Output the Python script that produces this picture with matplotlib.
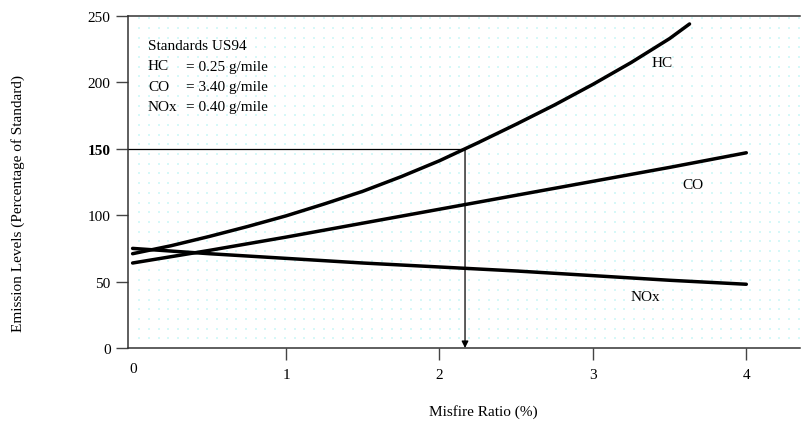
import numpy as np
import matplotlib.pyplot as plt

# emission levels as percentage of the US94 standard vs misfire ratio
misfire = [0.0, 0.25, 0.5, 0.75, 1.0, 1.25, 1.5, 1.75, 2.0, 2.25, 2.5, 2.75, 3.0, 3.25, 3.5, 3.63]
hc = [71, 77, 84, 91.5, 99.5, 108.5, 118, 129, 141, 154.5, 168.5, 183, 198.5, 215, 233, 244]

misfire_lin = [0.0, 0.5, 1.0, 1.5, 2.0, 2.5, 3.0, 3.5, 4.0]
co = [64, 73.5, 83.5, 94, 104.5, 115, 125.5, 136, 147]
nox = [75, 71, 67.5, 64, 61, 58, 54.5, 51, 48]

standard_level = 150
y_ticks = [0, 50, 100, 150, 200, 250]
x_ticks = [1, 2, 3, 4]
standards = [("HC", "= 0.25 g/mile"), ("CO", "= 3.40 g/mile"), ("NOx", "= 0.40 g/mile")]

plt.rcParams['font.family'] = ['Liberation Serif', 'DejaVu Serif']
W, H = 801, 427
fig = plt.figure(figsize=(W / 100, H / 100), dpi=100)
left, right, top, bottom = 128, 800, 17, 349
ax = fig.add_axes([left / W, 1 - bottom / H, (right - left) / W, (bottom - top) / H])

ax.set_xlim(-0.03, 4.35)
ax.set_ylim(0, 250)

# faint dotted background
xs = np.arange(11.3, right - left, 9.7) / (right - left)
ys = np.arange(9.7, bottom - top, 9.7) / (bottom - top)
gx, gy = np.meshgrid(xs, ys)
ax.scatter(gx.ravel(), gy.ravel(), s=0.8, marker='s', color='#d6f8f8',
           linewidths=0, transform=ax.transAxes, zorder=0)

line_style = dict(color='black', lw=2.5, solid_capstyle='round', solid_joinstyle='round')
ax.plot(misfire, hc, **line_style)
ax.plot(misfire_lin, co, **line_style)
ax.plot(misfire_lin, nox, **line_style)

# misfire ratio at which HC reaches 150 % of standard
x_cross = np.interp(standard_level, hc, misfire)
ax.plot([-0.03, x_cross], [standard_level, standard_level], color='black', lw=0.9)
ax.annotate('', xy=(x_cross, 0), xytext=(x_cross, standard_level),
            arrowprops=dict(arrowstyle='-|>', color='black', lw=0.9,
                            mutation_scale=10, shrinkA=0, shrinkB=0))

ax.text(3.45, 215, "HC", fontsize=11, ha='center', va='center')
ax.text(3.65, 123, "CO", fontsize=11, ha='center', va='center')
ax.text(3.34, 39, "NOx", fontsize=11, ha='center', va='center')

# standards box
ax.text(20 / 672, 1 - 29 / 332, "Standards US94", fontsize=11,
        transform=ax.transAxes, va='center')
for i, (gas, val) in enumerate(standards):
    yy = 1 - (50 + 20.3 * i) / 332
    ax.text(20 / 672, yy, gas, fontsize=11, transform=ax.transAxes, va='center')
    ax.text(58 / 672, yy, val, fontsize=11, transform=ax.transAxes, va='center')

ax.spines['right'].set_visible(False)
for s in ['left', 'top', 'bottom']:
    ax.spines[s].set_linewidth(1.1)
    ax.spines[s].set_color('#333333')

ax.set_yticks(y_ticks)
ax.set_yticklabels([str(v) for v in y_ticks])
ax.tick_params(axis='y', length=9, width=1, color='#444444', pad=3.5, labelsize=11)
for lbl in ax.get_yticklabels():
    if lbl.get_text() == str(standard_level):
        lbl.set_fontweight('bold')

ax.set_xticks(x_ticks)
ax.set_xticklabels([str(v) for v in x_ticks])
ax.tick_params(axis='x', length=8.5, width=1, color='#444444', pad=6, labelsize=11)
fig.text(133 / W, 1 - 370 / H, "0", fontsize=11, ha='center', va='center')

fig.text(483 / W, 1 - 412 / H, "Misfire Ratio (%)", fontsize=11, ha='center', va='center')
fig.text(18 / W, 1 - 203 / H, "Emission Levels (Percentage of Standard)", fontsize=11,
         rotation=90, ha='center', va='center')

fig.savefig("out.png", dpi=100)
